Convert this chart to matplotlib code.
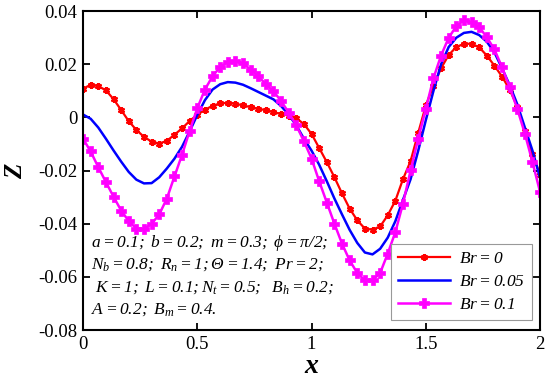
import numpy as np
import matplotlib
matplotlib.use("Agg")
import matplotlib.pyplot as plt

plt.rcParams['font.family'] = ['Liberation Serif', 'DejaVu Serif']
plt.rcParams['mathtext.fontset'] = 'custom'
plt.rcParams['mathtext.rm'] = 'Liberation Serif:italic'
plt.rcParams['mathtext.it'] = 'Liberation Serif:italic'
plt.rcParams['mathtext.bf'] = 'Liberation Serif:bold:italic'

x = np.linspace(0, 2, 61)

z_br0 = [0.0108, 0.0123, 0.0118, 0.0102, 0.0069, 0.0028, -0.0014, -0.0047, -0.0073, -0.0091,
         -0.0098, -0.0088, -0.0065, -0.0041, -0.0013, 0.0010, 0.0029, 0.0044, 0.0053, 0.0055,
         0.0052, 0.0045, 0.0039, 0.0033, 0.0027, 0.0020, 0.0013, 0.0007, -0.0003, -0.0025,
         -0.0062, -0.0115, -0.0168, -0.0225, -0.0286, -0.0343, -0.0387, -0.0418, -0.0422, -0.0410,
         -0.0368, -0.0313, -0.0232, -0.0164, -0.0058, 0.0045, 0.0120, 0.0185, 0.0235, 0.0265,
         0.0277, 0.0277, 0.0264, 0.0233, 0.0195, 0.0154, 0.0105, 0.0041, -0.0052, -0.0138,
         -0.0215]

z_br005 = [0.0011, -0.0005, -0.0038, -0.0080, -0.0124, -0.0166, -0.0205, -0.0234, -0.0248, -0.0247,
           -0.0225, -0.0192, -0.0155, -0.0110, -0.0052, 0.0010, 0.0065, 0.0105, 0.0125, 0.0133,
           0.0131, 0.0123, 0.0110, 0.0096, 0.0082, 0.0068, 0.0043, 0.0010, -0.0030, -0.0080,
           -0.0125, -0.0178, -0.0240, -0.0305, -0.0365, -0.0423, -0.0472, -0.0508, -0.0515, -0.0494,
           -0.0452, -0.0390, -0.0310, -0.0232, -0.0125, -0.0010, 0.0100, 0.0200, 0.0265, 0.0300,
           0.0318, 0.0322, 0.0310, 0.0285, 0.0245, 0.0185, 0.0122, 0.0050, -0.0038, -0.0125,
           -0.0228]

z_br01 = [-0.0080, -0.0128, -0.0187, -0.0243, -0.0298, -0.0350, -0.0390, -0.0418, -0.0420, -0.0400,
          -0.0365, -0.0305, -0.0222, -0.0140, -0.0050, 0.0035, 0.0105, 0.0155, 0.0190, 0.0208,
          0.0214, 0.0203, 0.0180, 0.0155, 0.0125, 0.0098, 0.0062, 0.0018, -0.0030, -0.0090,
          -0.0155, -0.0240, -0.0320, -0.0400, -0.0475, -0.0538, -0.0585, -0.0613, -0.0613, -0.0585,
          -0.0512, -0.0431, -0.0324, -0.0199, -0.0080, 0.0033, 0.0148, 0.0233, 0.0300, 0.0343,
          0.0365, 0.0358, 0.0340, 0.0302, 0.0256, 0.0189, 0.0114, 0.0033, -0.0061, -0.0168,
          -0.0281]

legend_labels = [r'$Br = 0$', r'$Br = 0.05$', r'$Br = 0.1$']
xticks = [0, 0.5, 1, 1.5, 2]
xticklabels = ['0', '0.5', '1', '1.5', '2']
yticks = [0.04, 0.02, 0, -0.02, -0.04, -0.06, -0.08]
yticklabels = ['0.04', '0.02', '0', '-0.02', '-0.04', '-0.06', '-0.08']

fig = plt.figure(figsize=(5.5, 3.83), dpi=100)
ax = fig.add_axes([0.151, 0.138, 0.831, 0.833])

ax.plot(x, z_br0, color='red', lw=1.6, marker=(6, 2, 0), ms=5, mew=1.6, label=legend_labels[0])
ax.plot(x, z_br005, color='blue', lw=1.8, label=legend_labels[1])
ax.plot(x, z_br01, color='magenta', lw=1.8, marker='P', ms=7, mew=0.5, label=legend_labels[2])

ax.set_xlim(0, 2)
ax.set_ylim(-0.08, 0.04)
ax.set_xticks(xticks)
ax.set_xticklabels(xticklabels)
ax.set_yticks(yticks)
ax.set_yticklabels(yticklabels)
ax.tick_params(direction='in', length=5, width=1.3, top=True, right=True, labelsize=13.5, pad=4)
for s in ax.spines.values():
    s.set_linewidth(1.5)

ax.set_xlabel(r'$\mathbf{x}$', fontsize=20, labelpad=1)
ax.set_ylabel(r'$\mathbf{Z}$', fontsize=18, labelpad=8)

ann = [r'$a = 0.1;\ b = 0.2;\ m =0.3;\ \phi = \pi/2;$',
       r'$N_b = 0.8;\ R_n = 1;\Theta = 1.4;\ Pr = 2;$',
       r'$\ K = 1;\ L = 0.1;N_t = 0.5;\ \ B_h = 0.2;$',
       r'$A = 0.2;\ B_m = 0.4.$']
ann_y = [243, 265, 288, 310]
for t, py in zip(ann, ann_y):
    fig.text(91 / 550, 1 - py / 383, t, fontsize=12.5, va='center', ha='left')

leg = ax.legend(loc='lower right', bbox_to_anchor=(0.99, 0.02), fontsize=12.5,
                frameon=True, fancybox=False, edgecolor='#999999', framealpha=1,
                handlelength=3.0, borderpad=0.4, labelspacing=0.4, handletextpad=0.5,
                borderaxespad=0.2)
leg.get_frame().set_linewidth(0.8)

fig.savefig('out.png', dpi=100)
